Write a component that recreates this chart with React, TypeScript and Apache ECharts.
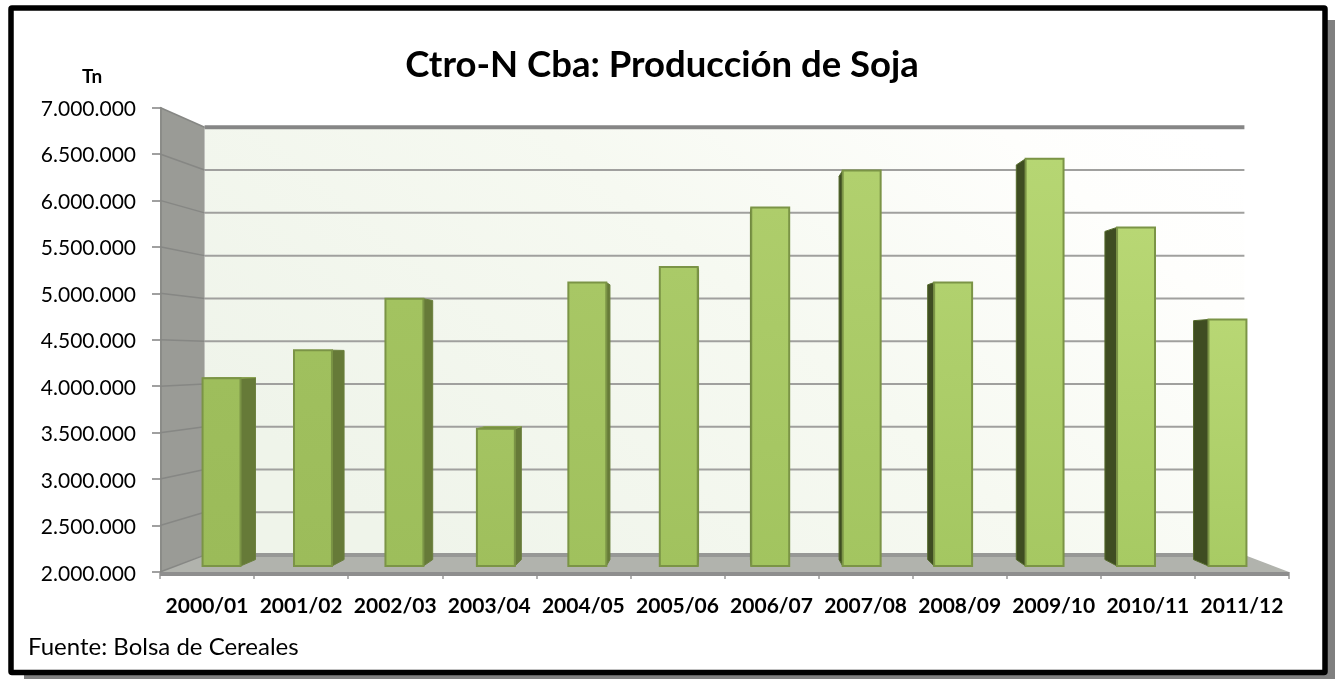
import React, { useEffect, useRef } from "react";
import * as echarts from "echarts";

const categories = ["2000/01","2001/02","2002/03","2003/04","2004/05","2005/06","2006/07","2007/08","2008/09","2009/10","2010/11","2011/12"];
const produccion = [4080000,4390000,4960000,3520000,5140000,5310000,5970000,6380000,5140000,6510000,5750000,4730000];
const yTicks = [2000000,2500000,3000000,3500000,4000000,4500000,5000000,5500000,6000000,6500000,7000000];

const VP = [724.5, 358];
const S_BACK = 0.921;
const S_BAR_FRONT = 0.972;
const S_BAR_BACK = 0.942;
const FONT = "Lato";

const proj = (p: number[], s: number) => [VP[0] + (p[0] - VP[0]) * s, VP[1] + (p[1] - VP[1]) * s];
const mix = (a: number[], b: number[], t: number) =>
  `rgb(${a.map((v, i) => Math.round(v + (b[i] - v) * t)).join(",")})`;

function renderScene(params: any, api: any) {
  const g = params.coordSys;
  const L = g.x, R = g.x + g.width;
  const yB = api.coord([0, 2000000])[1];
  const yT = api.coord([0, 7000000])[1];
  const bl = proj([L, yB], S_BACK), br = proj([R, yB], S_BACK);
  const tl = proj([L, yT], S_BACK), tr = proj([R, yT], S_BACK);
  const children: any[] = [
    {
      type: "polygon",
      shape: { points: [tl, tr, br, bl] },
      style: {
        fill: new echarts.graphic.LinearGradient(0, 0.6, 1, 0.1, [
          { offset: 0, color: "#eff4ea" },
          { offset: 0.5, color: "#f6f9f1" },
          { offset: 0.85, color: "#fefefc" },
          { offset: 1, color: "#ffffff" },
        ]),
      },
    },
    { type: "polygon", shape: { points: [[L, yT], tl, bl, [L, yB]] }, style: { fill: "#9a9b96" } },
    { type: "polygon", shape: { points: [[L, yB], bl, br, [R, yB]] }, style: { fill: "#b1b3ad" } },
    { type: "line", shape: { x1: L + 1, y1: yT, x2: L + 1, y2: yB }, style: { stroke: "#8b8c88", lineWidth: 2 } },
    { type: "line", shape: { x1: L, y1: yB + 2, x2: R, y2: yB + 2 }, style: { stroke: "#8e8e8e", lineWidth: 4 } },
  ];
  yTicks.forEach((t) => {
    const y = api.coord([0, t])[1];
    const a = proj([L, y], S_BACK), b = proj([R, y], S_BACK);
    const top = t === 7000000, base = t === 2000000;
    children.push({
      type: "line",
      shape: { x1: L, y1: y, x2: a[0], y2: a[1] },
      style: { stroke: "#868784", lineWidth: 1.5 },
    });
    children.push({
      type: "line",
      shape: { x1: a[0], y1: a[1], x2: b[0], y2: b[1] },
      style: { stroke: top ? "#868686" : base ? "#979896" : "#a0a09e", lineWidth: top ? 4 : base ? 4 : 2 },
    });
  });
  return { type: "group", children };
}

function renderBar(params: any, api: any) {
  const i = api.value(0);
  const v = api.value(1);
  const c = api.coord([i, v]);
  const base = api.coord([i, 2000000]);
  const half = api.size([1, 0])[0] * 0.2075;
  const t = i / (categories.length - 1);
  const lit = 1 - Math.min(1, (base[1] - c[1]) / 500);
  const fl = [c[0] - half, c[1]], fr = [c[0] + half, c[1]];
  const bl = [c[0] - half, base[1]], br = [c[0] + half, base[1]];
  const F = (p: number[]) => proj(p, S_BAR_FRONT);
  const B = (p: number[]) => proj(p, S_BAR_BACK);
  const edge = "#7b9446";
  const children: any[] = [];
  const center = F(c)[0];
  const leftSide = center > VP[0];
  const sideA = leftSide ? fl : fr, sideB = leftSide ? bl : br;
  children.push({
    type: "polygon",
    shape: { points: [F(sideA), B(sideA), B(sideB), F(sideB)] },
    style: { fill: leftSide ? "#3f4d22" : "#667a38", stroke: leftSide ? "#556b2c" : "#6a7f3c", lineWidth: 1 },
  });
  if (F(c)[1] > VP[1]) {
    children.push({
      type: "polygon",
      shape: { points: [F(fl), F(fr), B(fr), B(fl)] },
      style: { fill: "#76903e", stroke: "#8ba453", lineWidth: 1 },
    });
  }
  const topCol = mix([158, 190, 92], [190, 221, 122], t * (1 - lit * 0.4));
  const botCol = mix([155, 187, 89], [168, 203, 100], t);
  children.push({
    type: "polygon",
    shape: { points: [F(fl), F(fr), F(br), F(bl)] },
    style: {
      fill: new echarts.graphic.LinearGradient(0, 0, 0, 1, [
        { offset: 0, color: topCol },
        { offset: 1, color: botCol },
      ]),
      stroke: edge,
      lineWidth: 2,
    },
  });
  return { type: "group", children };
}

export default function App() {
  const ref = useRef<HTMLDivElement>(null);
  useEffect(() => {
    const chart = echarts.init(ref.current!, undefined, { renderer: "svg" });
    chart.setOption({
      animation: false,
      backgroundColor: "transparent",
      title: {
        text: "Ctro-N Cba: Producción de Soja",
        left: 657, top: 58, textAlign: "center", textVerticalAlign: "middle",
        textStyle: { fontFamily: FONT, fontWeight: "bold", fontSize: 36.5, color: "#000" },
      },
      graphic: [
        { type: "rect", z: -10, shape: { x: 24, y: 20, width: 1311, height: 659 }, style: { fill: "#808080" } },
        { type: "rect", z: -9, shape: { x: 11, y: 8, width: 1314, height: 664.5, r: 1 }, style: { fill: "#fff", stroke: "#000", lineWidth: 5.5 } },
        { type: "text", x: 82, y: 75, style: { text: "Tn", fontFamily: FONT, fontWeight: "bold", fontSize: 19, fill: "#000", verticalAlign: "middle" } },
        { type: "text", x: 28, y: 645, style: { text: "Fuente: Bolsa de Cereales", fontFamily: FONT, fontSize: 24, fill: "#000", verticalAlign: "middle" } },
      ],
      grid: { left: 160, right: 46, top: 107.5, bottom: 107 },
      xAxis: {
        type: "category",
        data: categories,
        axisLine: { show: false },
        axisTick: { show: true, alignWithLabel: false, length: 7, lineStyle: { color: "#999", width: 1.5 } },
        axisLabel: { fontFamily: FONT, fontWeight: "bold", fontSize: 21, color: "#000", margin: 22, interval: 0 },
        splitLine: { show: false },
      },
      yAxis: {
        type: "value",
        min: 2000000,
        max: 7000000,
        interval: 500000,
        axisLine: { show: false },
        axisTick: { show: true, length: 8, lineStyle: { color: "#808080", width: 1.5 } },
        axisLabel: {
          fontFamily: FONT, fontSize: 21, color: "#000", margin: 24, padding: [2, 0, 0, 0],
          formatter: (v: number) => String(v).replace(/\B(?=(\d{3})+$)/g, "."),
        },
        splitLine: { show: false },
      },
      series: [
        { type: "custom", name: "escena", renderItem: renderScene, data: [[0, 2000000]], clip: false, z: 1, silent: true, encode: { x: 0, y: 1 } },
        { type: "custom", name: "Producción", renderItem: renderBar, data: produccion.map((v, i) => [i, v]), clip: false, z: 2, encode: { x: 0, y: 1 } },
      ],
    });
    return () => chart.dispose();
  }, []);
  return <div ref={ref} style={{ position: "fixed", left: 0, top: 0, width: 1335, height: 679 }} />;
}
